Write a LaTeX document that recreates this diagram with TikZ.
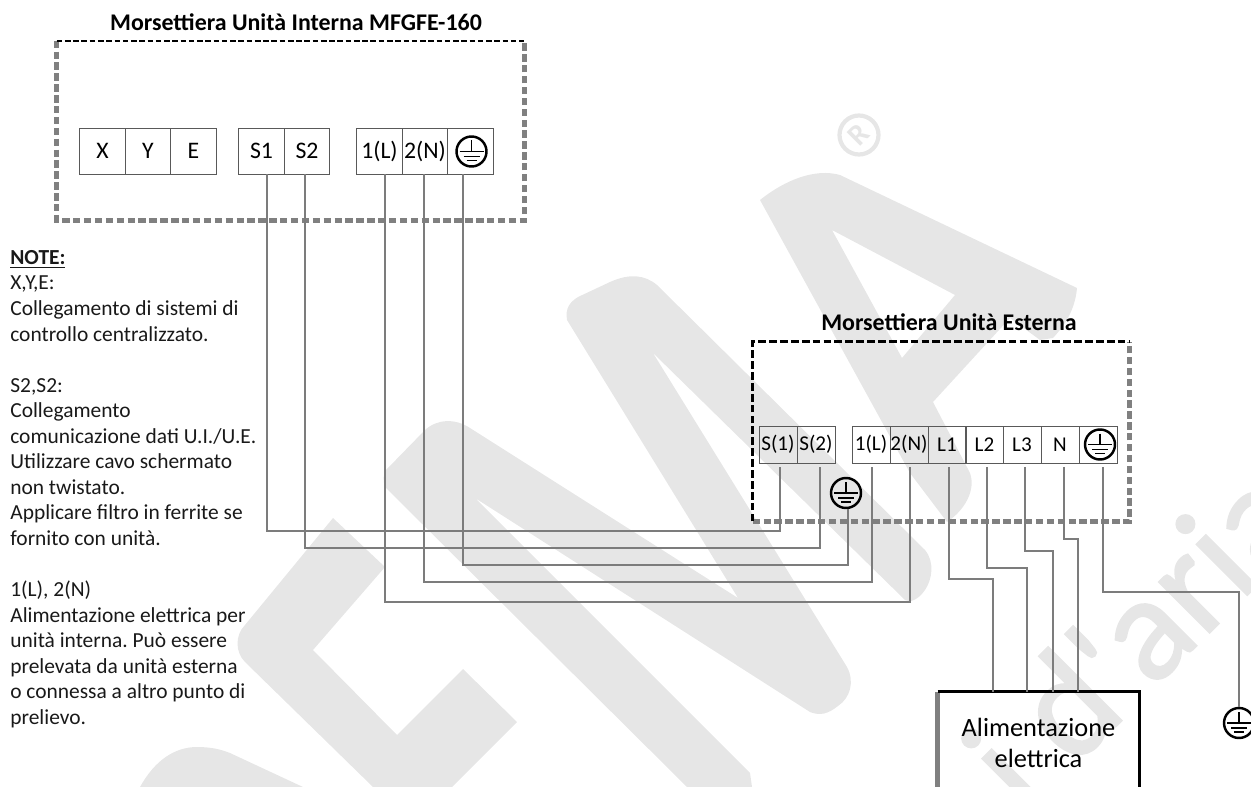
\documentclass[tikz,border=0pt]{standalone}
\usepackage{fontspec}
\setmainfont{Carlito}
\newfontfamily\filigranafont[FakeBold=1.4]{Carlito}
\usetikzlibrary{positioning}
\definecolor{filigrana}{HTML}{E6E6E6}
\definecolor{grigiocavo}{HTML}{7C7C7C}
\definecolor{bordo}{HTML}{808080}
\tikzset{
	morsettoI/.style={draw=black!65, line width=0.45pt, minimum width=0.91cm, minimum height=0.92cm, inner sep=0, font=\fontsize{13.5}{15}\selectfont},
	morsettoE/.style={draw=black!65, line width=0.45pt, minimum width=0.756cm, minimum height=0.74cm, inner sep=0, outer sep=2.2pt, font=\fontsize{12}{14}\selectfont},
	unita/.style={inner sep=0},
	tratteggioN/.style={line width=1.3pt, black, dash pattern=on 3.2pt off 1.5pt},
	tratteggioG/.style={line width=2.8pt, bordo, dash pattern=on 4.2pt off 2pt},
	filo/.style={line width=1.15pt, grigiocavo},
	titolo/.style={font=\fontsize{13.6}{15}\selectfont\bfseries},
	terraring/.style={circle, draw=black, line width=1.4pt, minimum size=0.6cm, inner sep=0},
	terraline/.style={line width=0.65pt, black}
}
\def\terra(#1)(#2){
	\node[terraring] (#1) at (#2) {};
	\draw[terraline] ([shift={(0,-11)}]#1.center) -- (#1.center);
	\draw[terraline] ([shift={(-12,0)}]#1.center) -- ([shift={(12,0)}]#1.center);
	\draw[terraline] ([shift={(-8,5)}]#1.center) -- ([shift={(8,5)}]#1.center);
	\draw[terraline] ([shift={(-5,9)}]#1.center) -- ([shift={(5,9)}]#1.center);
}

\begin{document}
\frenchspacing
\begin{tikzpicture}[x=0.02cm, y=-0.02cm]
	%%%%% FILIGRANA %%%%%
	\useasboundingbox (0,0) rectangle (1251,787);
	\clip (0,0) rectangle (1251,787);
	
	\fill[filigrana] (333,518) -- (385,567) -- (313,650) -- (397,735) -- (463,669) -- (517,722) -- (452,787) -- (373,787) -- (245,662) .. controls (235,652) and (235,635) .. (245,625) -- cycle;
	\fill[filigrana] (140,787) .. controls (155,760) and (175,747) .. (197,747) .. controls (210,747) and (220,749) .. (230,753) -- (303,787) -- cycle;
	\fill[filigrana] (567,320) .. controls (565,308) and (570,302) .. (578,297) -- (610,282) .. controls (630,273) and (645,275) .. (657,285) -- (925,550) .. controls (935,562) and (932,580) .. (925,590) .. controls (918,600) and (910,603) .. (905,600) -- (653,353) -- (847,667) .. controls (855,682) and (850,698) .. (838,706) .. controls (828,714) and (820,716) .. (810,712) -- (475,498) -- (750,773) -- (752,787) -- (687,787) -- (385,487) .. controls (383,480) and (383,475) .. (386,470) -- (425,430) .. controls (437,419) and (455,418) .. (470,428) -- (738,598) -- cycle;
	\fill[filigrana, even odd rule] (760,200) .. controls (785,180) and (815,168) .. (840,175) -- (1077,288) .. controls (1075,310) and (1065,325) .. (1053,338) -- (1040,340) -- (1010,318) -- (933,402) -- (970,473) .. controls (976,490) and (965,510) .. (947,522) -- (910,473) -- cycle (832,230) -- (955,295) -- (902,358) -- cycle;
	\node[draw=filigrana, line width=2.4pt, text=filigrana, circle, minimum size=0.78cm, inner sep=0, rotate=45, font=\fontsize{17}{17}\selectfont\bfseries] (marchio) at (859,135) {R};
	\node[rotate=45, anchor=base west, text=filigrana, font=\fontsize{85}{85}\filigranafont] (aria) at (1021,821) {i d'aria};
	
	%%%%% UNITA INTERNA %%%%%
	\node[unita, minimum width=9.34cm, minimum height=3.58cm] (unitaI) at (290.5,130.5) {};
	\draw[tratteggioG] (unitaI.north west) -- (unitaI.south west) -- (unitaI.south east) -- (unitaI.north east);
	\draw[tratteggioN] (unitaI.north west) -- (unitaI.north east);
	\node[titolo] (titoloI) at (296,22) {Morsettiera Unità Interna MFGFE-160};
	
	\node[morsettoI] (iX) at (102.5,151) {X};
	\node[morsettoI] (iY) at (148,151) {Y};
	\node[morsettoI] (iE) at (193.5,151) {E};
	\node[morsettoI] (iS1) at (261.5,151) {S1};
	\node[morsettoI] (iS2) at (307,151) {S2};
	\node[morsettoI] (iL) at (379.5,151) {1(L)};
	\node[morsettoI] (iN) at (425,151) {2(N)};
	\node[morsettoI] (iPE) at (470.5,151) {};
	\terra(terraI)(471.5,151.5)
	
	%%%%% UNITA ESTERNA %%%%%
	\node[unita, minimum width=7.52cm, minimum height=3.58cm] (unitaE) at (941,431.5) {};
	\draw[tratteggioG] (unitaE.south west) -- (unitaE.south east) -- (unitaE.north east);
	\draw[tratteggioN, line width=1.6pt, dash pattern=on 4.4pt off 1.8pt] (unitaE.south west) -- (unitaE.north west) -- (unitaE.north east);
	\node[titolo] (titoloE) at (949,322) {Morsettiera Unità Esterna};
	
	\node[morsettoE] (eS1) at (778,444.5) {S(1)};
	\node[morsettoE] (eS2) at (816,444.5) {S(2)};
	\node[morsettoE] (eL) at (871,444.5) {1(L)};
	\node[morsettoE] (eN) at (909,444.5) {2(N)};
	\node[morsettoE] (eL1) at (947,444.5) {L1};
	\node[morsettoE] (eL2) at (984.5,444.5) {L2};
	\node[morsettoE] (eL3) at (1022,444.5) {L3};
	\node[morsettoE] (eNN) at (1060,444.5) {N};
	\node[morsettoE] (ePE) at (1098,444.5) {};
	\terra(terraE)(1100,444.5)
	\terra(terraS)(846,493)
	
	%%%%% ALIMENTAZIONE %%%%%
	\node[inner sep=0, minimum width=4.02cm, minimum height=2.04cm, align=center, font=\fontsize{15}{17.6}\selectfont] (alim) at (1038.5,743) {Alimentazione\\elettrica};
	\draw[line width=3.2pt, bordo] (alim.north west) -- (alim.south west);
	\draw[line width=1.7pt, black] (alim.north west) -- (alim.north east) -- (alim.south east);
	\terra(terraA)(1239,723)
	
	%%%%% CAVI %%%%%
	\draw[filo] (iS1.south -| 267,0) |- (780,531) -- (eS1.south -| 780,0);
	\draw[filo] (iS2.south -| 305,0) |- (820,548) -- (eS2.south -| 820,0);
	\draw[filo] (iPE.south -| 463,0) |- (848,565) -- (terraS.south -| 848,0);
	\draw[filo] (iN.south -| 424,0) |- (872,582) -- (eL.south -| 872,0);
	\draw[filo] (iL.south -| 385,0) |- (910,602) -- (eN.south -| 910,0);
	
	\draw[filo] (eL1.south -| 949,0) |- (993,579) -- (alim.north -| 993,0);
	\draw[filo] (eL2.south -| 987,0) |- (1027,568) -- (alim.north -| 1027,0);
	\draw[filo] (eL3.south -| 1025,0) |- (1053,551) -- (alim.north -| 1053,0);
	\draw[filo] (eNN.south -| 1064,0) |- (1078,539) -- (alim.north -| 1078,0);
	\draw[filo] (ePE.south -| 1103,0) |- (1239,592) -- (terraA.north);
	
	%%%%% NOTE %%%%%
	\node[anchor=north west, inner sep=0, align=left, text=black!90, font=\fontsize{12.2}{14.54}\selectfont] (note) at (10,250) {\underline{\textbf{NOTE:}}\\
		X,Y,E:\\
		Collegamento di sistemi di\\
		controllo centralizzato.\\
		\mbox{}\\
		S2,S2:\\
		Collegamento\\
		comunicazione dati U.I./U.E.\\
		Utilizzare cavo schermato\\
		non twistato.\\
		Applicare filtro in ferrite se\\
		fornito con unità.\\
		\mbox{}\\
		1(L), 2(N)\\
		Alimentazione elettrica per\\
		unità interna. Può essere\\
		prelevata da unità esterna\\
		o connessa a altro punto di\\
		prelievo.};
\end{tikzpicture}
\end{document}
